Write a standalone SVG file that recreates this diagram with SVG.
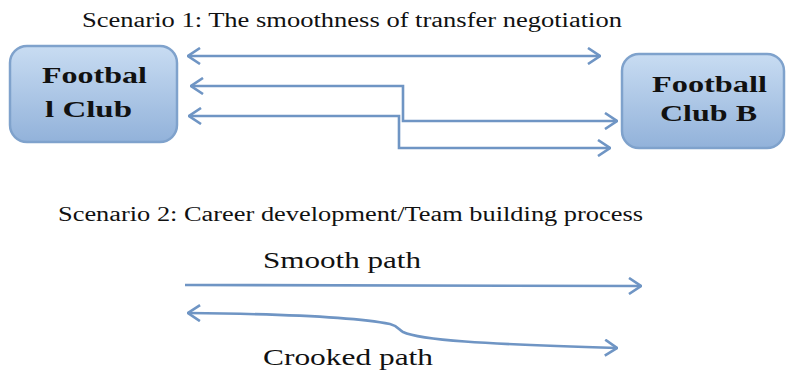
<svg xmlns="http://www.w3.org/2000/svg" width="786" height="370" viewBox="0 0 786 370">
<defs>
<linearGradient id="g" x1="0" y1="0" x2="0" y2="1">
<stop offset="0" stop-color="#c8dcf2"/>
<stop offset="1" stop-color="#92b2da"/>
</linearGradient>
<marker id="ah" viewBox="0 0 14 18" refX="13" refY="9" markerWidth="14" markerHeight="18" markerUnits="userSpaceOnUse" orient="auto-start-reverse">
<path d="M1,1 L13,9 L1,17" fill="none" stroke="#6f95c4" stroke-width="2.6" stroke-linejoin="miter"/>
</marker>
<style>
.box{fill:url(#g);stroke:#7fa2cc;stroke-width:2.5}
.bt{font-family:"Liberation Serif","Times New Roman",serif;font-weight:bold;font-size:23px;fill:#111}
.t{font-family:"Liberation Serif","Times New Roman",serif;font-size:20px;fill:#111}
.lb{font-family:"Liberation Serif","Times New Roman",serif;font-size:24px;fill:#111}
.c{fill:none;stroke:#6f95c4;stroke-width:2.6}
</style>
</defs>
<rect width="786" height="370" fill="#fff"/>
<text class="t" x="82" y="27" textLength="540" lengthAdjust="spacingAndGlyphs">Scenario 1: The smoothness of transfer negotiation</text>
<text class="t" x="58" y="221" textLength="585" lengthAdjust="spacingAndGlyphs">Scenario 2: Career development/Team building process</text>
<g id="clubA">
<rect class="box" x="10" y="46" width="167" height="96" rx="17"/>
<text class="bt" x="42" y="83" textLength="105" lengthAdjust="spacingAndGlyphs">Footbal</text>
<text class="bt" x="45" y="117" textLength="87" lengthAdjust="spacingAndGlyphs">l Club</text>
</g>
<g id="clubB">
<rect class="box" x="622" y="54" width="162" height="94" rx="17"/>
<text class="bt" x="652" y="92" textLength="115" lengthAdjust="spacingAndGlyphs">Football</text>
<text class="bt" x="660" y="121" textLength="97" lengthAdjust="spacingAndGlyphs">Club B</text>
</g>
<g id="connectors">
<path class="c" d="M188,56 L600,56" marker-start="url(#ah)" marker-end="url(#ah)"/>
<path class="c" d="M191,86 L403,86 L403,121 L617,121" marker-start="url(#ah)" marker-end="url(#ah)"/>
<path class="c" d="M189,116 L399,116 L399,148 L610,148" marker-start="url(#ah)" marker-end="url(#ah)"/>
<path class="c" d="M185,285 L641,286" marker-end="url(#ah)"/>
<path class="c" d="M188,313 C290,314 360,318 390,324 C398,326 399,330 403,332 C420,340 480,344 617,348" marker-start="url(#ah)" marker-end="url(#ah)"/>
</g>
<text class="lb" x="263" y="268" textLength="158" lengthAdjust="spacingAndGlyphs">Smooth path</text>
<text class="lb" x="263" y="365" textLength="170" lengthAdjust="spacingAndGlyphs">Crooked path</text>
</svg>
